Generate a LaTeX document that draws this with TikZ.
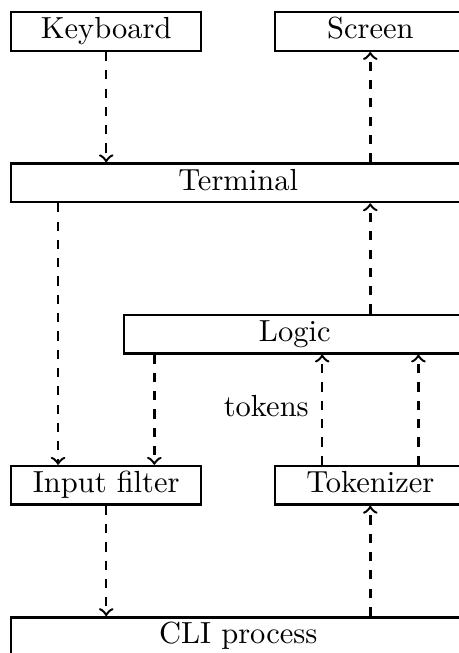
\documentclass[tikz,border=0pt]{standalone}
\usepackage{tikz}
\usetikzlibrary{arrows,positioning,calc}
\begin{document}
\begin{tikzpicture}
  \tikzset{BoxStyle/.style = {shape          = rectangle,
                              draw, thick,
                              text           = black,
                              inner sep      = 0pt,
                              minimum height = 0.444cm,
                              text height    = 1.6ex,
                              text depth     = 0.5ex}}
  \tikzset{FlowStyle/.style = {->, thick, dashed}}
  \useasboundingbox (-0.115,0.127) rectangle (5.174,-7.398);
  \begin{scope}[every node/.style={BoxStyle}, small/.style={minimum width=2.19cm}, wide/.style={minimum width=5.233cm}, node distance=1.271cm and 0.825cm]
	%%% TOP ROW %%%
	\node[small, anchor=north west](kbd) at (0,0){Keyboard};
	\node[small, right=of kbd](screen){Screen};
	\node[wide, below=of kbd.south west, anchor=north west](term){Terminal};
	%%% MIDDLE %%%
	\node[minimum width=3.93cm, below=of term.south east, anchor=north east](logic){Logic};
	\node[small, below=of logic.south -| kbd.west, anchor=north west](input){Input filter};
	\node[small, below=of logic.south -| screen.west, anchor=north west](tok){Tokenizer};
	\node[wide, below=of input.south west, anchor=north west](cli){CLI process};
	%%% CONNECTORS %%%
	\coordinate (in1) at ($(input.north west)!0.25!(input.north east)$);
	\coordinate (in2) at ($(input.north west)!0.75!(input.north east)$);
	\coordinate (tk1) at ($(tok.north west)!0.25!(tok.north east)$);
	\coordinate (tk2) at ($(tok.north west)!0.75!(tok.north east)$);
	\draw[FlowStyle](kbd) -- (kbd |- term.north);
	\draw[FlowStyle](screen |- term.north) -- (screen);
	\draw[FlowStyle](in1 |- term.south) -- (in1);
	\draw[FlowStyle](screen |- logic.north) -- (screen |- term.south);
	\draw[FlowStyle](in2 |- logic.south) -- (in2);
	\draw[FlowStyle](tk1) -- node[left, draw=none, rectangle, fill=none, minimum height=0pt, inner sep=4pt]{tokens} (tk1 |- logic.south);
	\draw[FlowStyle](tk2) -- (tk2 |- logic.south);
	\draw[FlowStyle](input) -- (input |- cli.north);
	\draw[FlowStyle](tok |- cli.north) -- (tok);
  \end{scope}
\end{tikzpicture}
\end{document}
